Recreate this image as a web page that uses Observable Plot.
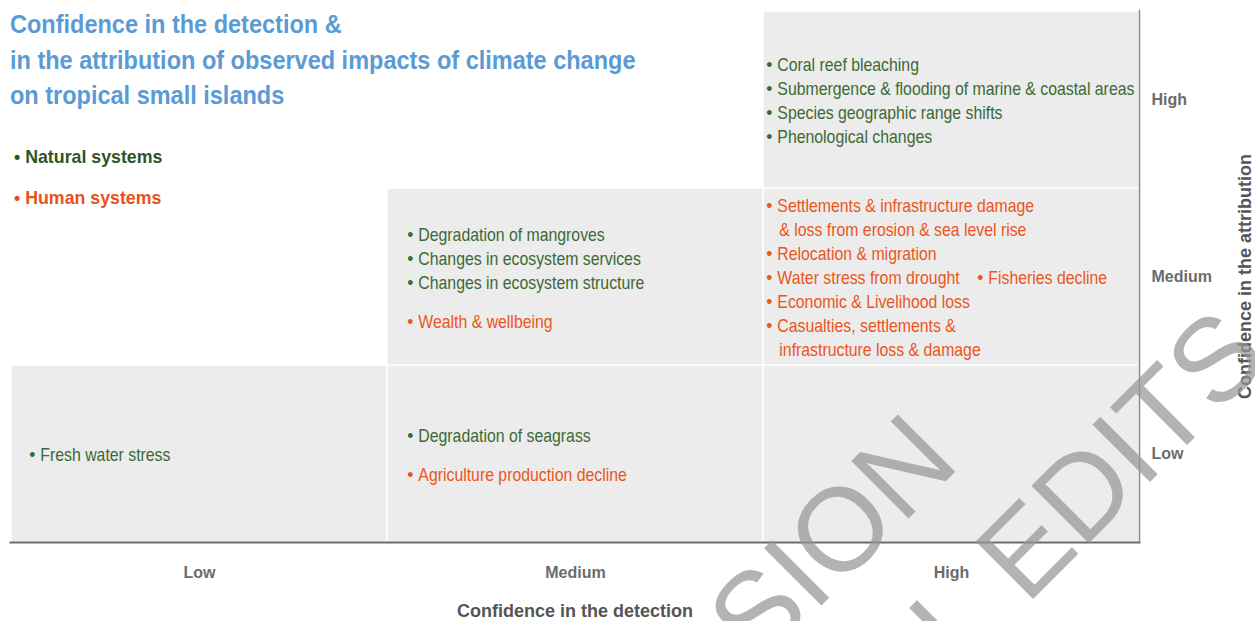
<!DOCTYPE html>
<html>
<head>
<meta charset="utf-8">
<script src="https://cdn.jsdelivr.net/npm/d3@7"></script>
<script src="https://cdn.jsdelivr.net/npm/@observablehq/plot@0.6"></script>
<style>
  html, body { margin: 0; padding: 0; background: #fff; }
  #wrap { position: relative; width: 1255px; height: 621px; overflow: hidden; }
  #chart { position: absolute; left: 0; top: 0; }
  #title { position: absolute; left: 10px; top: 7px; margin: 0; white-space: nowrap;
    font-family: "Liberation Sans", Arial, sans-serif;
    font-weight: bold; font-size: 25px; line-height: 35.5px; color: #5b9bd5;
    transform: scaleX(0.94); transform-origin: left top; }
  #legend { position: absolute; left: 14px; top: 144px; white-space: nowrap;
    font-family: "Liberation Sans", Arial, sans-serif;
    font-weight: bold; font-size: 19px;
    transform: scaleX(0.935); transform-origin: left top; }
  #legend div { height: 41px; line-height: 26px; }
  #watermark { position: absolute; left: 0; top: 0; pointer-events: none; }
</style>
</head>
<body>
<div id="wrap">
  <div id="chart"></div>
  <div id="title"></div>
  <div id="legend"></div>
  <svg id="watermark" width="1255" height="621"></svg>
</div>
<script>
// ---------- data ----------
const levels = ["Low", "Medium", "High"];
const titleLines = [
  "Confidence in the detection &",
  "in the attribution of observed impacts of climate change",
  "on tropical small islands"
];
const systems = ["Natural systems", "Human systems"];
const xTitle = ["Confidence in the detection"];
const yTitle = ["Confidence in the attribution"];
const watermarkLines = ["ACCEPTED VERSION", "SUBJECT TO FINAL EDITS"];

// shaded cells: detection x attribution
const shadedDetection   = ["High", "Medium", "High",   "Low", "Medium", "High"];
const shadedAttribution = ["High", "Medium", "Medium", "Low", "Low",    "Low"];

// observed impacts (in reading order within each cell)
const itemText = [
  "Coral reef bleaching",
  "Submergence & flooding of marine & coastal areas",
  "Species geographic range shifts",
  "Phenological changes",
  "Degradation of mangroves",
  "Changes in ecosystem services",
  "Changes in ecosystem structure",
  "Wealth & wellbeing",
  "Settlements & infrastructure damage",
  "& loss from erosion & sea level rise",
  "Relocation & migration",
  "Water stress from drought",
  "Fisheries decline",
  "Economic & Livelihood loss",
  "Casualties, settlements &",
  "infrastructure loss & damage",
  "Fresh water stress",
  "Degradation of seagrass",
  "Agriculture production decline"
];
const itemDetection = [
  "High", "High", "High", "High",
  "Medium", "Medium", "Medium", "Medium",
  "High", "High", "High", "High", "High", "High", "High", "High",
  "Low",
  "Medium", "Medium"
];
const itemAttribution = [
  "High", "High", "High", "High",
  "Medium", "Medium", "Medium", "Medium",
  "Medium", "Medium", "Medium", "Medium", "Medium", "Medium", "Medium", "Medium",
  "Low",
  "Low", "Low"
];
const itemSystem = [
  "Natural systems", "Natural systems", "Natural systems", "Natural systems",
  "Natural systems", "Natural systems", "Natural systems", "Human systems",
  "Human systems", "Human systems", "Human systems", "Human systems",
  "Human systems", "Human systems", "Human systems", "Human systems",
  "Natural systems",
  "Natural systems", "Human systems"
];
// continuation line of the previous item (no bullet)
const itemContinued = [
  false, false, false, false,
  false, false, false, false,
  false, true, false, false, false, false, false, true,
  false,
  false, false
];
// second column on the same line as the previous item
const itemColumn = [
  0, 0, 0, 0,
  0, 0, 0, 0,
  0, 0, 0, 0, 1, 0, 0, 0,
  0,
  0, 0
];

// ---------- style / layout ----------
const W = 1255, H = 621;
const mL = 10, mR = 116, mT = 10, mB = 79;
const bw = (W - mL - mR) / levels.length;
const sans = "Liberation Sans, Arial, sans-serif";
const colors = {"Natural systems": "#3b6a34", "Human systems": "#ea5620"};
const legendColors = {"Natural systems": "#2d5527", "Human systems": "#e9501b"};
const bulletOffset = {Low: 21, Medium: 23, High: 6};  // bullet centre from cell's left edge
const textGap = 8, contGap = 10, colStep = 211;
const lineH = 24, groupGap = 15;
const itemFont = 17.5, condense = 0.905;

// ---------- title & legend ----------
document.getElementById("title").innerHTML = titleLines.map(t => `<div>${t.replace(/&/g, "&amp;")}</div>`).join("");
document.getElementById("legend").innerHTML = systems.map(s =>
  `<div style="color:${legendColors[s]}">\u2022 ${s}</div>`).join("");

// ---------- layout of items inside cells ----------
const items = itemText.map((t, i) => ({
  text: t, det: itemDetection[i], attr: itemAttribution[i],
  sys: itemSystem[i], cont: itemContinued[i], col: itemColumn[i]
}));
for (const [, arr] of d3.group(items, d => d.det + "|" + d.attr)) {
  let row = -1, off = 0, prev = null;
  for (const d of arr) {
    if (d.col === 0) {
      row++;
      if (prev && prev !== d.sys) off += groupGap;
    }
    d.yo = row * lineH + off;
    prev = d.sys;
  }
  const span = d3.max(arr, d => d.yo);
  arr.forEach(d => d.dy = d.yo - span / 2 + 1.5);
}

const shaded = shadedDetection.map((d, i) => ({det: d, attr: shadedAttribution[i]}));

const itemMarks = [];
for (const d of items) {
  const base = -bw / 2 + bulletOffset[d.det] + d.col * colStep;
  if (!d.cont) {
    itemMarks.push(Plot.text([d], {
      x: "det", y: "attr", text: () => "\u2022", textAnchor: "middle",
      dx: base, dy: d.dy, fill: colors[d.sys], fontSize: itemFont, fontFamily: sans
    }));
  }
  itemMarks.push(Plot.text([d], {
    x: "det", y: "attr", text: "text", textAnchor: "start",
    dx: base + (d.cont ? contGap : textGap), dy: d.dy,
    fill: colors[d.sys], fontSize: itemFont, fontFamily: sans
  }));
}

const chart = Plot.plot({
  width: W, height: H,
  marginLeft: mL, marginRight: mR, marginTop: mT, marginBottom: mB,
  style: {background: "#fff", overflow: "visible"},
  x: {type: "band", domain: levels, padding: 0},
  y: {type: "band", domain: levels.slice().reverse(), padding: 0},
  marks: [
    Plot.cell(shaded, {x: "det", y: "attr", fill: "#ececec", inset: 0.75}),
    ...itemMarks,
    Plot.frame({anchor: "bottom", stroke: "#6a6a6a", strokeWidth: 2}),
    Plot.frame({anchor: "right", stroke: "#8a8a8a", strokeWidth: 1.5}),
    Plot.axisX({tickSize: 0, tickPadding: 24, label: null, fontSize: 16, fontWeight: "bold",
      fill: "#6b6b6b", fontFamily: sans}),
    Plot.axisY({anchor: "right", tickSize: 0, tickPadding: 12, label: null, fontSize: 16,
      fontWeight: "bold", fill: "#6b6b6b", fontFamily: sans, textAnchor: "start"}),
    Plot.text(xTitle, {frameAnchor: "bottom", text: d => d, dy: 69, fontSize: 18,
      textAnchor: "middle", lineAnchor: "middle",
      fontWeight: "bold", fill: "#555", fontFamily: sans}),
    Plot.text(yTitle, {frameAnchor: "right", text: d => d, dx: 106, rotate: -90, fontSize: 18,
      textAnchor: "middle", lineAnchor: "middle",
      fontWeight: "bold", fill: "#555", fontFamily: sans})
  ]
});
document.getElementById("chart").appendChild(chart);

// condense impact labels horizontally (narrow typeface look), keeping their start point
const itemSet = new Set(itemText);
d3.select(chart).selectAll("text").each(function() {
  if (!itemSet.has(this.textContent)) return;
  const t = this.getAttribute("transform");
  if (t) {
    this.setAttribute("transform", t + ` scale(${condense},1)`);
  } else {
    const x = +this.getAttribute("x") || 0;
    this.setAttribute("transform", `translate(${x},0) scale(${condense},1) translate(${-x},0)`);
  }
});

// ---------- watermark ----------
const wm = d3.select("#watermark");
const wmEnds = [[962, 465], [1272, 360]];
watermarkLines.forEach((t, i) => {
  wm.append("text")
    .attr("transform", `translate(${wmEnds[i][0]},${wmEnds[i][1]}) rotate(-45)`)
    .attr("text-anchor", "end")
    .attr("font-family", sans)
    .attr("font-size", 118)
    .attr("fill", "rgba(150,150,150,0.72)")
    .text(t);
});
</script>
</body>
</html>
